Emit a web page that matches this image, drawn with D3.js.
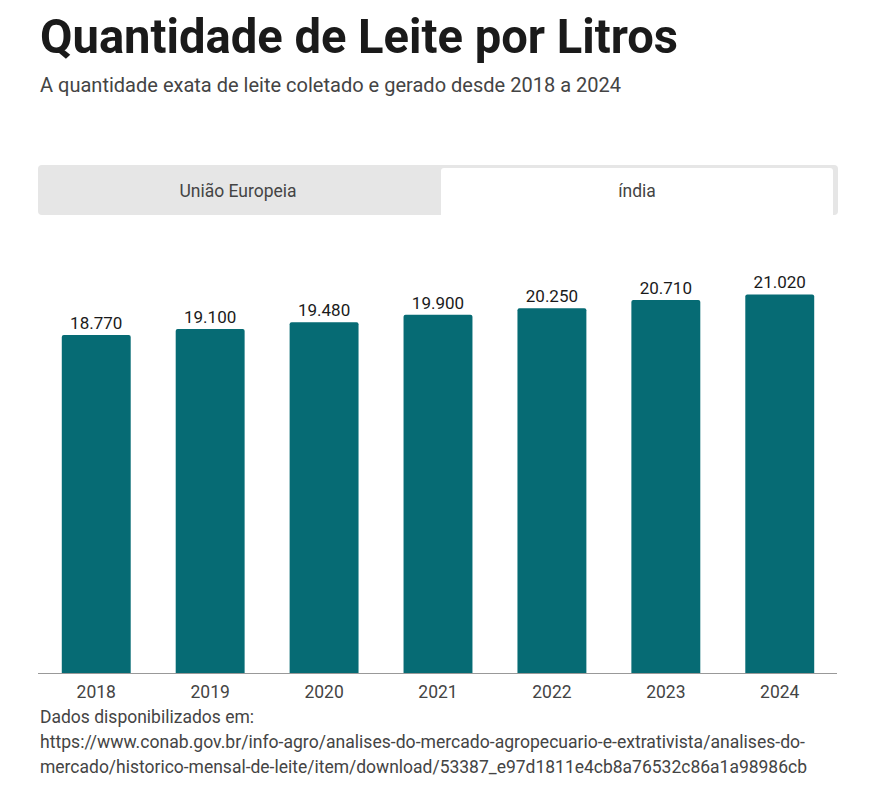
<!DOCTYPE html>
<html><head><meta charset="utf-8">
<script src="https://cdn.jsdelivr.net/npm/d3@7"></script>
<style>body{margin:0;background:#fff;font-family:Roboto,sans-serif}</style>
</head><body>
<svg id="chart" width="869" height="791"></svg>
<script>
const title = "Quantidade de Leite por Litros";
const subtitle = "A quantidade exata de leite coletado e gerado desde 2018 a 2024";
const tabs = ["União Europeia", "índia"];
const years = ["2018","2019","2020","2021","2022","2023","2024"];
const values = [18770, 19100, 19480, 19900, 20250, 20710, 21020];
const footer = ["Dados disponibilizados em:",
 "https://www.conab.gov.br/info-agro/analises-do-mercado-agropecuario-e-extrativista/analises-do-",
 "mercado/historico-mensal-de-leite/item/download/53387_e97d1811e4cb8a76532c86a1a98986cb"];

const svg = d3.select("#chart");
svg.append("text").attr("x",40).attr("y",53).text(title)
  .attr("font-family","Roboto").attr("font-weight",700).attr("font-size",49)
  .attr("fill","#1a1a1a").attr("textLength",638).attr("lengthAdjust","spacingAndGlyphs");
svg.append("text").attr("x",40).attr("y",92).text(subtitle)
  .attr("font-family","Roboto").attr("font-size",20).attr("fill","#444")
  .attr("textLength",581).attr("lengthAdjust","spacingAndGlyphs");

// tabs
svg.append("rect").attr("x",38).attr("y",165).attr("width",800).attr("height",50).attr("rx",4).attr("fill","#e6e6e6");
svg.append("rect").attr("x",441).attr("y",168).attr("width",392).attr("height",47).attr("rx",3).attr("fill","#fff");
svg.append("rect").attr("x",441).attr("y",200).attr("width",392).attr("height",15).attr("fill","#fff");
svg.append("text").attr("x",238).attr("y",197).attr("text-anchor","middle").text(tabs[0])
  .attr("font-size",17.5).attr("fill","#444");
svg.append("text").attr("x",637).attr("y",197).attr("text-anchor","middle").text(tabs[1])
  .attr("font-size",17.5).attr("fill","#444");

const x = d3.scaleBand().domain(years).range([39, 837]).paddingInner(0.395).paddingOuter(0.2);
const y = d3.scaleLinear().domain([0, 24000]).range([673, 240.8]);
const fmt = d3.formatLocale({decimal:",",thousands:".",grouping:[3],currency:["",""]}).format(",");

const g = svg.append("g");
g.selectAll("path.bar").data(years).join("path").attr("class","bar")
  .attr("d",(d,i)=>{
    const x0=x(d), w=x.bandwidth(), y0=y(values[i]), y1=y(0), r=2;
    return `M${x0},${y1}V${y0+r}Q${x0},${y0} ${x0+r},${y0}H${x0+w-r}Q${x0+w},${y0} ${x0+w},${y0+r}V${y1}Z`;
  }).attr("fill","#066b74");
g.selectAll("text.val").data(years).join("text").attr("class","val")
  .attr("x",d=>x(d)+x.bandwidth()/2).attr("y",(d,i)=>y(values[i])-6)
  .attr("text-anchor","middle").attr("font-size",17).attr("fill","#1a1a1a")
  .text((d,i)=>fmt(values[i]));

const ax = svg.append("g").attr("transform","translate(0,673)")
  .call(d3.axisBottom(x).tickSize(0).tickPadding(10));
ax.select(".domain").attr("stroke","#999").attr("d","M38,0.5H837");
ax.selectAll("text").attr("font-family","Roboto").attr("font-size",17.5).attr("fill","#444").attr("dy","0.85em");

footer.forEach((t,i)=>{
  svg.append("text").attr("x",40).attr("y",723+i*25).text(t).attr("font-size",17.5).attr("fill","#444")
    .attr("textLength", i===0 ? 214 : (i===1 ? 765 : 767)).attr("lengthAdjust","spacingAndGlyphs");
});
</script>
</body></html>
